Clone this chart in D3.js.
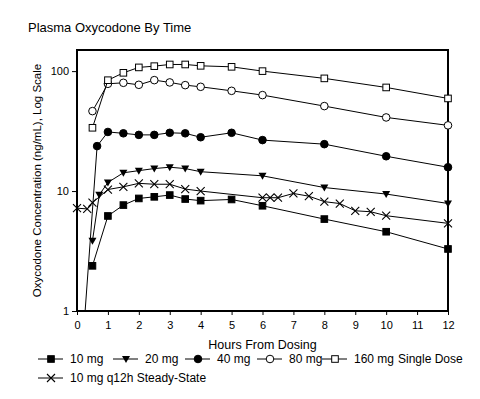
<!DOCTYPE html>
<head>
<meta charset="utf-8">
<script src="https://cdn.jsdelivr.net/npm/d3@7"></script>
<style>
    body { margin: 0; background: #fff; font-family: 'Liberation Sans', Arial, sans-serif; }
    svg text { fill: #000; }
</style>
</head>
<body>
<script>
//DATA
var names = ['10 mg', '20 mg', '40 mg', '80 mg', '160 mg', '10 mg q12h Steady-State'];

var t10  = [0.5, 1, 1.5, 2, 2.5, 3, 3.5, 4, 5, 6, 8, 10, 12];
var v10  = [2.38, 6.2, 7.64, 8.68, 8.95, 9.26, 8.58, 8.32, 8.51, 7.54, 5.84, 4.58, 3.29];

var t20  = [0.5, 0.72, 1, 1.5, 2, 2.5, 3, 3.5, 4, 6, 8, 10, 12];
var v20  = [3.85, 9.3, 11.8, 14.2, 14.8, 15.4, 15.8, 15.4, 14.5, 13.4, 10.7, 9.44, 7.88];

var t40  = [0.25, 0.65, 1, 1.5, 2, 2.5, 3, 3.5, 4, 5, 6, 8, 10, 12];
var v40  = [0.9, 23.7, 31.1, 30.3, 29.4, 29.4, 30.6, 30.3, 28.1, 30.6, 26.6, 24.6, 19.5, 15.8];

var t80  = [0.5, 1, 1.5, 2, 2.5, 3, 3.5, 4, 5, 6, 8, 10, 12];
var v80  = [46.4, 78.4, 79.9, 76.9, 84.1, 80.5, 76.4, 74, 68.5, 63.1, 51.1, 41.1, 35.3];

var t160 = [0.5, 1, 1.5, 2, 2.5, 3, 3.5, 4, 5, 6, 8, 10, 12];
var v160 = [33.7, 84, 96.8, 107.4, 110, 113.6, 113.6, 110.7, 108.6, 100, 87, 73.1, 59.2];

var tss  = [0, 0.33, 0.5, 1, 1.5, 2, 2.5, 3, 3.5, 4, 6, 6.25, 6.5, 7, 7.5, 8, 8.5, 9, 9.5, 10, 12];
var vss  = [7.2, 7.1, 8.0, 10.3, 10.85, 11.6, 11.4, 11.4, 10.4, 10.0, 8.8, 8.8, 8.8, 9.55, 9.06, 8.16, 7.87, 6.85, 6.72, 6.23, 5.38];

var xTicks = [0, 1, 2, 3, 4, 5, 6, 7, 8, 9, 10, 11, 12];
var yTicks = [1, 10, 100];

var series = [
    { name: names[0], t: t10,  v: v10,  mark: 'sqFill' },
    { name: names[1], t: t20,  v: v20,  mark: 'tri' },
    { name: names[2], t: t40,  v: v40,  mark: 'dotFill' },
    { name: names[3], t: t80,  v: v80,  mark: 'dotOpen' },
    { name: names[4], t: t160, v: v160, mark: 'sqOpen' },
    { name: names[5], t: tss,  v: vss,  mark: 'cross' }
];

//WINDOW
var W = 480, H = 399;
var L = 77, R = 448, T = 50, B = 311;

var svg = d3.select('body').append('svg')
    .attr('width', W).attr('height', H);

var x = d3.scaleLinear().domain([0, 12]).range([L, R]);
var y = d3.scaleLog().domain([1, 150]).range([B, T]);

svg.append('defs').append('clipPath').attr('id', 'plot')
    .append('rect').attr('x', L - 6).attr('y', T - 6).attr('width', R - L + 12).attr('height', B - T + 6);

//TITLE + LABELS
svg.append('text').attr('x', 28).attr('y', 32)
    .style('font-size', '13px').text('Plasma Oxycodone By Time');

svg.append('text')
    .attr('transform', 'translate(41,' + (T + B) / 2 + ') rotate(-90)')
    .attr('text-anchor', 'middle').style('font-size', '11.5px')
    .text('Oxycodone Concentration (ng/mL), Log Scale');

svg.append('text').attr('x', (L + R) / 2).attr('y', 349)
    .attr('text-anchor', 'middle').style('font-size', '12.5px')
    .text('Hours From Dosing');

//AXES
var xAxis = svg.append('g').attr('transform', 'translate(0,' + B + ')')
    .call(d3.axisBottom(x).tickValues(xTicks).tickSize(4).tickPadding(6).tickFormat(d3.format('d')));
var yAxis = svg.append('g').attr('transform', 'translate(' + L + ',0)')
    .call(d3.axisLeft(y).tickValues(yTicks).tickSize(5).tickPadding(3).tickFormat(d3.format('d')));

[xAxis, yAxis].forEach(function(a) {
    a.select('.domain').remove();
    a.selectAll('line').attr('stroke', '#000').attr('stroke-width', 1);
    a.selectAll('text').style('font-size', '11px').style('font-family', "'Liberation Sans', Arial, sans-serif").attr('fill', '#000');
});

// frame
svg.append('path')
    .attr('d', 'M' + L + ',' + B + 'H' + R + 'V' + T + 'H' + L + 'Z')
    .attr('fill', 'none').attr('stroke', '#000').attr('stroke-width', 2);

//MARKERS
function marker(g, kind, s) {
    if (kind === 'sqFill' || kind === 'sqOpen') {
        g.append('rect').attr('x', -3.3).attr('y', -3.3).attr('width', 6.6).attr('height', 6.6)
            .attr('fill', kind === 'sqFill' ? '#000' : '#fff').attr('stroke', '#000').attr('stroke-width', 1);
    } else if (kind === 'dotFill' || kind === 'dotOpen') {
        g.append('circle').attr('r', 3.8)
            .attr('fill', kind === 'dotFill' ? '#000' : '#fff').attr('stroke', '#000').attr('stroke-width', 1);
    } else if (kind === 'tri') {
        g.append('path').attr('d', 'M-4,-3L4,-3L0,4Z').attr('fill', '#000');
    } else if (kind === 'cross') {
        g.append('path').attr('d', 'M-4,-4L4,4M-4,4L4,-4').attr('stroke', '#000').attr('stroke-width', 1.1).attr('fill', 'none');
    }
}

var line = d3.line().x(d => x(d[0])).y(d => y(d[1]));

var plot = svg.append('g').attr('clip-path', 'url(#plot)');

series.forEach(function(s) {
    var pts = s.t.map((t, i) => [t, s.v[i]]);
    plot.append('path').datum(pts).attr('d', line)
        .attr('fill', 'none').attr('stroke', '#000').attr('stroke-width', 1);
    plot.selectAll(null).data(pts).enter().append('g')
        .attr('transform', d => 'translate(' + x(d[0]) + ',' + y(d[1]) + ')')
        .each(function() { marker(d3.select(this), s.mark); });
});

//LEGEND
var legendPos = [[38, 359], [113, 359], [185, 359], [257, 359], [322, 359], [38, 378]];
series.forEach(function(s, i) {
    var g = svg.append('g').attr('transform', 'translate(' + legendPos[i][0] + ',' + legendPos[i][1] + ')');
    g.append('line').attr('x1', 0).attr('x2', 25).attr('stroke', '#000').attr('stroke-width', 1);
    marker(g.append('g').attr('transform', 'translate(13,0)'), s.mark);
    g.append('text').attr('x', i === 4 ? 32 : 32).attr('y', 4).style('font-size', '12px').text(s.name);
});
svg.append('text').attr('x', 398).attr('y', 363).style('font-size', '12px').text('Single Dose');
</script>
</body>
